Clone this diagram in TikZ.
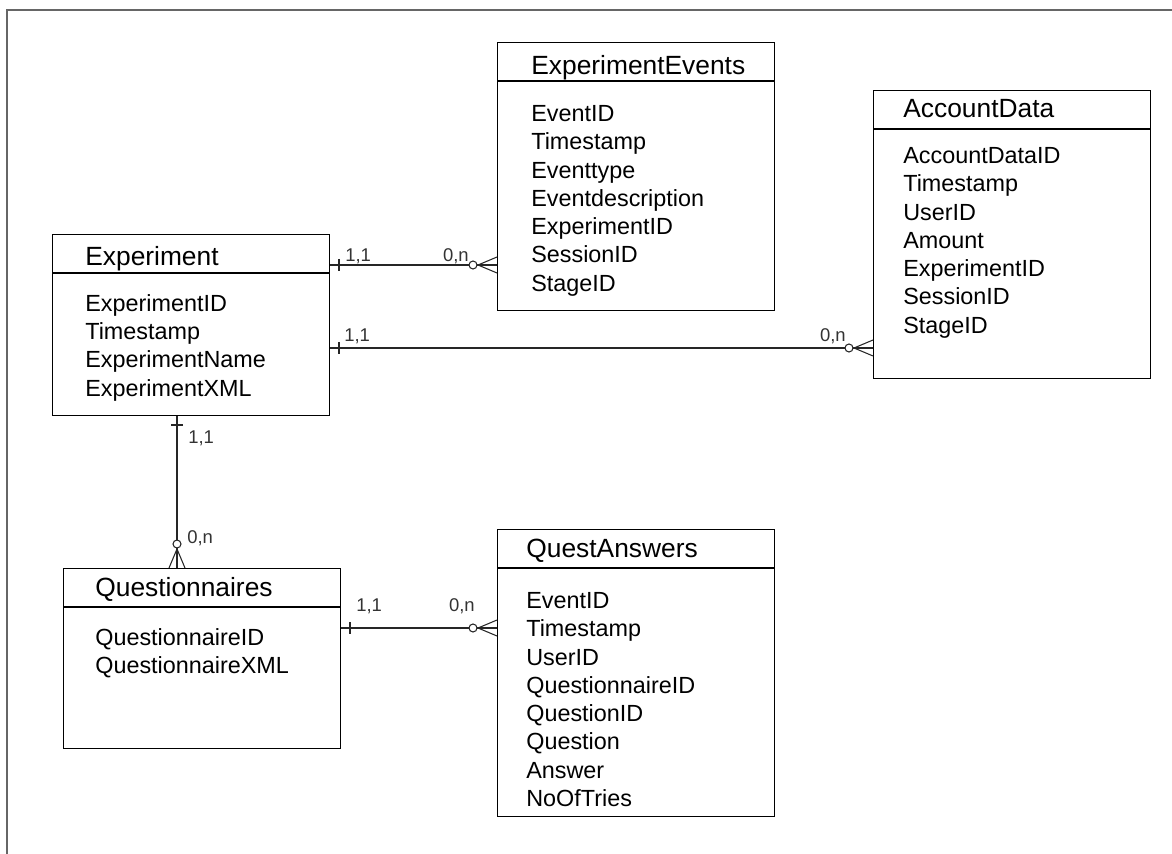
\documentclass[tikz,border=0pt]{standalone}
\usepackage{fontspec}
\setmainfont{Liberation Sans}
\begin{document}
\begin{tikzpicture}[x=0.02cm, y=-0.02cm,
    entity/.style={draw, line width=0.6pt, anchor=north west, inner sep=0pt,
                   minimum width=5.54cm,
                   path picture={\draw[line width=0.6pt]
                     ([yshift=-0.77cm]path picture bounding box.north west) --
                     ([yshift=-0.77cm]path picture bounding box.north east);}},
    enttitle/.style={anchor=base west, inner sep=0pt, font=\fontsize{15}{18}\selectfont},
    fields/.style={anchor=north west, align=left, inner sep=0pt,
                   font=\fontsize{13.3}{16.1}\selectfont},
    card/.style={anchor=base west, inner sep=0pt, text=black!80,
                 font=\fontsize{10.5}{12}\selectfont},
    rel/.style={draw=black!85, line width=0.6pt},
    one/.pic={\draw[rel] (9,-6) -- (9,6);},
    many/.pic={\draw[rel] (-19,0) -- (0,-8) (-19,0) -- (0,8) (-19,0) -- (0,0);
               \draw[rel, fill=white] (-24,0) circle[radius=4];}
  ]
  \useasboundingbox (0,0) rectangle (1172,854);
  \draw[black!60, line width=1pt] (7,854) -- (7,10) -- (1172,10);

  \node[entity, minimum height=3.62cm] (exp) at (52,234) {};
  \node[enttitle] (expT) at (85,266) {Experiment};
  \node[fields] (expF) at (85,294) {ExperimentID\\Timestamp\\ExperimentName\\ExperimentXML};

  \node[entity, minimum height=5.36cm] (events) at (497,42) {};
  \node[enttitle] (eventsT) at (531,75) {ExperimentEvents};
  \node[fields] (eventsF) at (531,105) {EventID\\Timestamp\\Eventtype\\Eventdescription\\ExperimentID\\SessionID\\StageID};

  \node[entity, minimum height=5.76cm] (account) at (873,90) {};
  \node[enttitle] (accountT) at (903,118) {AccountData};
  \node[fields] (accountF) at (903,147) {AccountDataID\\Timestamp\\UserID\\Amount\\ExperimentID\\SessionID\\StageID};

  \node[entity, minimum height=3.6cm] (quest) at (63,568) {};
  \node[enttitle] (questT) at (95,596) {Questionnaires};
  \node[fields] (questF) at (95,628) {QuestionnaireID\\QuestionnaireXML};

  \node[entity, minimum height=5.74cm] (answers) at (497,529) {};
  \node[enttitle] (answersT) at (526,557) {QuestAnswers};
  \node[fields] (answersF) at (526,592) {EventID\\Timestamp\\UserID\\QuestionnaireID\\QuestionID\\Question\\Answer\\NoOfTries};

  \coordinate (row1) at (0,265);
  \coordinate (row2) at (0,348);
  \coordinate (row3) at (0,628);
  \coordinate (col1) at (177,0);

  \draw[rel] (exp.east |- row1) -- (events.west |- row1)
    pic[pos=0, sloped, allow upside down]{one} pic[pos=1, sloped, allow upside down]{many};
  \draw[rel] (exp.east |- row2) -- (account.west |- row2)
    pic[pos=0, sloped, allow upside down]{one} pic[pos=1, sloped, allow upside down]{many};
  \draw[rel] (quest.east |- row3) -- (answers.west |- row3)
    pic[pos=0, sloped, allow upside down]{one} pic[pos=1, sloped, allow upside down]{many};
  \draw[rel] (exp.south -| col1) -- (quest.north -| col1)
    pic[pos=0, sloped, allow upside down]{one} pic[pos=1, sloped, allow upside down]{many};

  \node[card] (l1a) at (345,262) {1,1};
  \node[card, anchor=base east] (l1b) at (469,262) {0,n};
  \node[card] (l2a) at (344,342) {1,1};
  \node[card, anchor=base east] (l2b) at (846,342) {0,n};
  \node[card] (l3a) at (356,611) {1,1};
  \node[card, anchor=base east] (l3b) at (475,611) {0,n};
  \node[card] (l4a) at (188,443) {1,1};
  \node[card] (l4b) at (187,543) {0,n};
\end{tikzpicture}
\end{document}
